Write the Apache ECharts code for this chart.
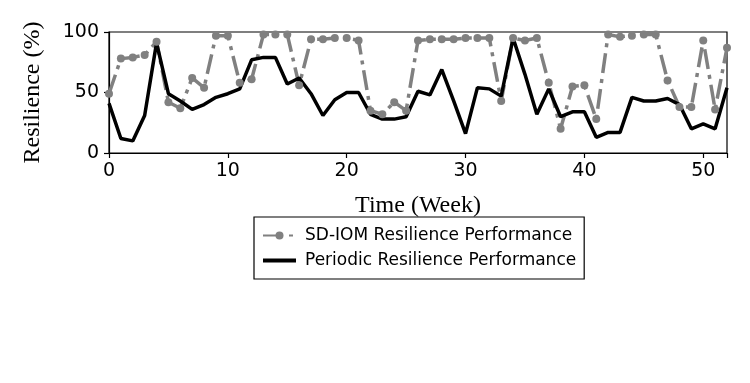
<!DOCTYPE html>
<html>
<head>
<meta charset="utf-8">
<script src="https://cdn.jsdelivr.net/npm/echarts@6/dist/echarts.min.js"></script>
<style>
html,body{margin:0;padding:0;background:#fff;}
#main{width:750px;height:383px;}
</style>
</head>
<body>
<div id="main"></div>
<script>
// weeks 0..52
var weeks = [];
for (var w = 0; w <= 52; w++) weeks.push(w);

var sdIom = [49, 78, 79, 81, 92, 42, 37, 62, 54, 97, 97, 58, 61, 98, 98, 98, 56, 94,
	94, 95, 95, 93, 35, 32, 42, 35, 93, 94, 94, 94, 95, 95, 95, 43, 95, 93,
	95, 58, 20, 55, 56, 28, 98, 96, 97, 98, 98, 60, 38, 38, 93, 36, 87];

var periodic = [41, 12, 10, 31, 91, 49, 43, 36, 40, 46, 49, 53, 77, 79, 79, 57, 62, 49,
	31, 44, 50, 50, 32, 28, 28, 30, 51, 48, 69, 43, 16, 54, 53, 47, 95, 65,
	32, 53, 30, 34, 34, 13, 17, 17, 46, 43, 43, 45, 40, 20, 24, 20, 54];

var seriesNames = ['SD-IOM Resilience Performance', 'Periodic Resilience Performance'];

function pairs(vals) {
	return weeks.map(function (w, i) { return [w, vals[i]]; });
}

var chart = echarts.init(document.getElementById('main'));
var option = {
	animation: false,
	backgroundColor: '#fff',
	grid: {
		left: 109,
		right: 23,
		top: 32,
		bottom: 230,
		show: true,
		borderColor: '#000',
		borderWidth: 1.2
	},
	legend: {
		data: [
			{name: seriesNames[0]},
			{name: seriesNames[1], icon: 'path://M0,0H33V4H0Z'}   // plain line, no marker
		],
		orient: 'vertical',
		left: 254,
		top: 217,
		padding: [9, 8, 9, 8],
		itemGap: 6,
		itemWidth: 33,
		itemHeight: 10,
		borderColor: '#000',
		borderWidth: 1.2,
		textStyle: {
			fontFamily: 'DejaVu Sans',
			fontSize: 17,
			lineHeight: 19,
			color: '#000',
			padding: [0, 0, 0, 4]
		}
	},
	xAxis: {
		type: 'value',
		min: 0,
		max: 52,
		interval: 10,
		name: 'Time (Week)',
		nameLocation: 'middle',
		nameGap: 41,
		nameTextStyle: {fontFamily: 'Liberation Serif', fontSize: 24, color: '#000'},
		splitLine: {show: false},
		axisLine: {lineStyle: {color: '#000', width: 1.2}},
		axisTick: {length: 5, lineStyle: {color: '#000', width: 1.2}},
		axisLabel: {
			margin: 9,
			fontFamily: 'DejaVu Sans',
			fontSize: 19,
			color: '#000',
			formatter: function (v) { return v % 10 === 0 ? String(v) : ''; }
		}
	},
	yAxis: {
		type: 'value',
		min: 0,
		max: 100,
		interval: 50,
		name: 'Resilience (%)',
		nameLocation: 'middle',
		nameGap: 64,
		nameTextStyle: {fontFamily: 'Liberation Serif', fontSize: 24, color: '#000'},
		splitLine: {show: false},
		axisLine: {show: true, lineStyle: {color: '#000', width: 1.2}},
		axisTick: {show: true, length: 5, lineStyle: {color: '#000', width: 1.2}},
		axisLabel: {
			margin: 10,
			fontFamily: 'DejaVu Sans',
			fontSize: 19,
			color: '#000'
		}
	},
	series: [
		{
			name: seriesNames[0],
			type: 'line',
			data: pairs(sdIom),
			symbol: 'circle',
			symbolSize: 8,
			showAllSymbol: true,
			itemStyle: {color: '#808080'},
			lineStyle: {color: '#808080', width: 3.5, type: [20, 6, 4, 6]}
		},
		{
			name: seriesNames[1],
			type: 'line',
			data: pairs(periodic),
			symbol: 'none',
			itemStyle: {color: '#000'},
			lineStyle: {color: '#000', width: 3.5}
		}
	]
};
chart.setOption(option);
</script>
</body>
</html>
